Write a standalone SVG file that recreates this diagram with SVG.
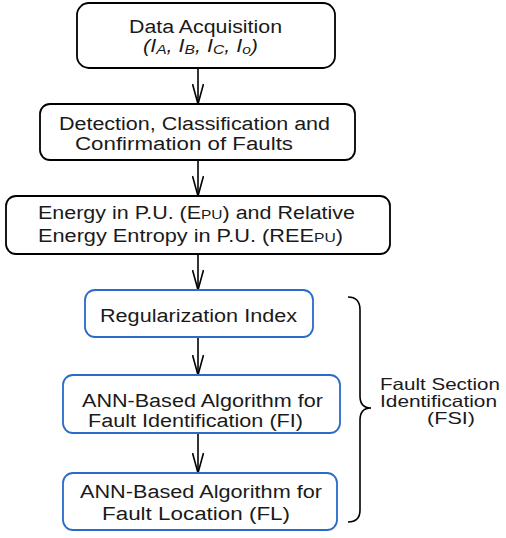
<svg xmlns="http://www.w3.org/2000/svg" width="506" height="538" viewBox="0 0 506 538">
  <style>
    .box { fill: #ffffff; stroke: #000000; stroke-width: 1.8; }
    .blue { fill: #ffffff; stroke: #2a6bc9; stroke-width: 1.8; }
    .lbl { font-family: "Liberation Sans", Arial, sans-serif; font-size: 18px; fill: #1a1a1a; }
    .side { font-size: 16.5px; }
    .sub { font-size: 13px; }
    .conn { stroke: #000000; stroke-width: 1.6; fill: none; }
  </style>
  <defs>
    <!-- open, narrow V arrowhead -->
    <marker id="vee" viewBox="0 0 22 12" refX="21" refY="6" markerWidth="22" markerHeight="12" markerUnits="userSpaceOnUse" orient="auto">
      <path d="M1,0.5 L21,6 L1,11.5" fill="none" stroke="#000000" stroke-width="1.6"/>
    </marker>
  </defs>

  <g id="connectors">
    <line class="conn" x1="198" y1="68" x2="198" y2="104" marker-end="url(#vee)"/>
    <line class="conn" x1="198" y1="160" x2="198" y2="196" marker-end="url(#vee)"/>
    <line class="conn" x1="198" y1="254" x2="198" y2="290" marker-end="url(#vee)"/>
    <line class="conn" x1="198" y1="337" x2="198" y2="375" marker-end="url(#vee)"/>
    <line class="conn" x1="198" y1="433" x2="198" y2="473" marker-end="url(#vee)"/>
    <!-- brace grouping the fault section identification stages -->
    <path class="conn" d="M348,297 Q360,297 360,310 L360,396 Q360,408 371,408 Q360,408 360,420 L360,510 Q360,522 348,522"/>
  </g>

  <g id="data-acquisition">
    <rect class="box" x="77" y="3" width="258" height="65" rx="12"/>
    <text class="lbl" x="129" y="33" textLength="153" lengthAdjust="spacingAndGlyphs">Data Acquisition</text>
    <text class="lbl" x="143" y="52" font-style="italic" textLength="115" lengthAdjust="spacingAndGlyphs">(I<tspan class="sub" dy="1.5">A</tspan><tspan dy="-1.5">, I</tspan><tspan class="sub" dy="1.5">B</tspan><tspan dy="-1.5">, I</tspan><tspan class="sub" dy="1.5">C</tspan><tspan dy="-1.5">, I</tspan><tspan class="sub" dy="1.5">o</tspan><tspan dy="-1.5">)</tspan></text>
  </g>

  <g id="detection">
    <rect class="box" x="40" y="104" width="315" height="56" rx="10"/>
    <text class="lbl" x="59" y="130" textLength="271" lengthAdjust="spacingAndGlyphs">Detection, Classification and</text>
    <text class="lbl" x="75" y="150" textLength="218" lengthAdjust="spacingAndGlyphs">Confirmation of Faults</text>
  </g>

  <g id="energy">
    <rect class="box" x="6" y="196" width="384" height="58" rx="10"/>
    <text class="lbl" x="38" y="219" textLength="317" lengthAdjust="spacingAndGlyphs">Energy in P.U. (E<tspan class="sub">PU</tspan>) and Relative</text>
    <text class="lbl" x="38" y="242" textLength="305" lengthAdjust="spacingAndGlyphs">Energy Entropy in P.U. (REE<tspan class="sub">PU</tspan>)</text>
  </g>

  <g id="regularization">
    <rect class="blue" x="85" y="290" width="228" height="47" rx="10"/>
    <text class="lbl" x="100" y="322" textLength="197" lengthAdjust="spacingAndGlyphs">Regularization Index</text>
  </g>

  <g id="ann-fi">
    <rect class="blue" x="63" y="375" width="277" height="58" rx="10"/>
    <text class="lbl" x="82" y="407" textLength="241" lengthAdjust="spacingAndGlyphs">ANN-Based Algorithm for</text>
    <text class="lbl" x="88" y="427" textLength="215" lengthAdjust="spacingAndGlyphs">Fault Identification (FI)</text>
  </g>

  <g id="ann-fl">
    <rect class="blue" x="63" y="473" width="274" height="57" rx="10"/>
    <text class="lbl" x="80" y="498" textLength="242" lengthAdjust="spacingAndGlyphs">ANN-Based Algorithm for</text>
    <text class="lbl" x="102" y="520" textLength="188" lengthAdjust="spacingAndGlyphs">Fault Location (FL)</text>
  </g>

  <g id="fsi-label">
    <text class="lbl side" x="380" y="390" textLength="120" lengthAdjust="spacingAndGlyphs">Fault Section</text>
    <text class="lbl side" x="380" y="407" textLength="117" lengthAdjust="spacingAndGlyphs">Identification</text>
    <text class="lbl side" x="427" y="424" textLength="48" lengthAdjust="spacingAndGlyphs">(FSI)</text>
  </g>
</svg>
